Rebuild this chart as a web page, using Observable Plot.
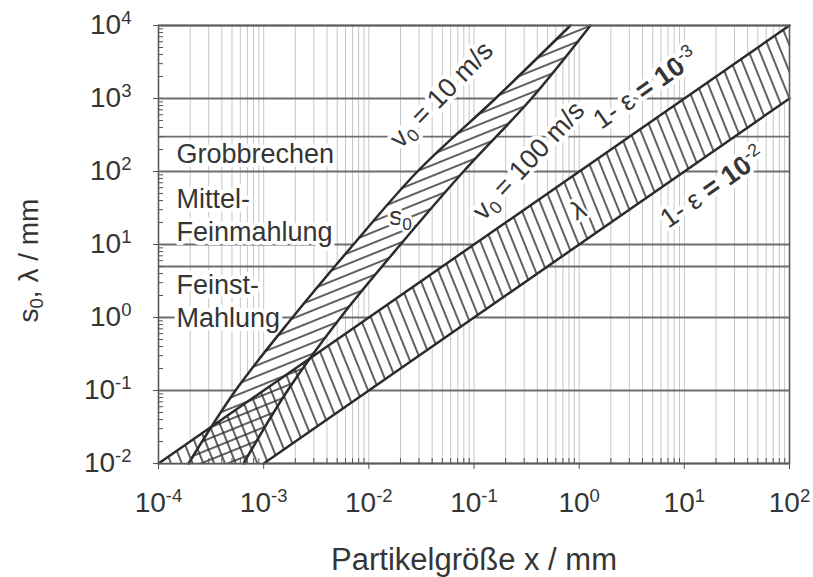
<!DOCTYPE html>
<html>
<head>
<meta charset="utf-8">
<script src="https://cdn.jsdelivr.net/npm/d3@7"></script>
<script src="https://cdn.jsdelivr.net/npm/@observablehq/plot@0.6"></script>
<style>
  html, body { margin: 0; padding: 0; background: #fff; }
  svg { display: block; }
</style>
</head>
<body>
<div id="chart"></div>
<script>
// Axis ranges and tick values (log-log diagram)
const xDecades = [1e-4, 1e-3, 1e-2, 1e-1, 1e0, 1e1, 1e2];
const yDecades = [1e-2, 1e-1, 1e0, 1e1, 1e2, 1e3, 1e4];
const gridMultipliers = [1, 2, 3, 4, 5, 6, 7, 8, 9];

// Limits of the comminution classes (mm)
const classBounds = [5, 300];
const classText = ["Grobbrechen", "Mittel-", "Feinmahlung", "Feinst-", "Mahlung"];
const classY = [129, 32, 11, 2.13, 0.73];
const classX = 1.48e-4;

// Stopping distance s0 versus particle size, for two impact velocities
const s0Levels = [1e-2, 1e-1, 1e0, 1e1, 1e2, 1e3, 1e4];
const xV10  = [1.93e-4, 5.4e-4, 1.88e-3, 7.14e-3, 0.029, 0.16, 0.826];
const xV100 = [6.43e-4, 1.69e-3, 5.38e-3, 0.020, 0.0794, 0.352, 1.28];

// Mean free path λ between particles for two solids fractions 1-ε
const lambdaX    = [1e-4, 1e-3, 1e2];
const lambdaE3   = [1e-2, 1e-1, 1e4];   // 1-ε = 10^-3
const lambdaE2   = [1e-2, 1e-2, 1e3];   // 1-ε = 10^-2 (bounded below by the axis)

// Curve annotations
const curveText   = ["v_{0} = 10 m/s", "v_{0} = 100 m/s", "1- ε *= 10*^{-3}", "1- ε *= 10*^{-2}"];
const curveX      = [0.049, 0.33, 4.28, 18.5];
const curveY      = [1130, 141, 1371, 60.4];
const curveRotate = [-46, -47, -35, -35];

const bandText   = ["s_{0}", "λ"];
const bandX      = [0.02, 0.987];
const bandY      = [24, 29.2];
const bandRotate = [0, -25];

const xGrid = xDecades.slice(0, -1).flatMap(d => gridMultipliers.map(k => k * d));
const xMinorTicks = xDecades.slice(0, -1).flatMap(d => gridMultipliers.slice(1).map(k => k * d));
const yMinorTicks = yDecades.slice(0, -1).flatMap(d => gridMultipliers.slice(1).map(k => k * d));

const s0Rows = s0Levels.map((y, i) => ({y, a: xV10[i], b: xV100[i]}));
const lambdaRows = lambdaX.map((x, i) => ({x, lo: lambdaE2[i], hi: lambdaE3[i]}));
const classRows = classText.map((text, i) => ({text, x: classX, y: classY[i]}));
const curveRows = curveText.map((text, i) => ({text, x: curveX[i], y: curveY[i], r: curveRotate[i]}));
const bandRows = bandText.map((text, i) => ({text, x: bandX[i], y: bandY[i], r: bandRotate[i]}));

const ink = "#2b2b2b";
const textInk = "#353535";
const expFormat = d => `10^{${Math.round(Math.log10(d))}}`;

const chart = Plot.plot({
  width: 813,
  height: 577,
  marginLeft: 158,
  marginRight: 24,
  marginTop: 25,
  marginBottom: 114,
  style: {fontFamily: "'Liberation Sans', Arial, sans-serif", fontSize: "28px", color: textInk, background: "#fff"},
  x: {type: "log", domain: [1e-4, 1e2]},
  y: {type: "log", domain: [1e-2, 1e4]},
  marks: [
    // grid
    Plot.ruleX(xGrid, {stroke: "#c6c6c6", strokeWidth: 1}),
    Plot.ruleY(yDecades.concat(classBounds), {stroke: "#6e6e6e", strokeWidth: 1.8}),
    // class names and curve names on white halos
    Plot.text(classRows, {x: "x", y: "y", text: "text", textAnchor: "start", lineAnchor: "bottom",
      fontSize: 27, fill: textInk, stroke: "white", strokeWidth: 8, strokeLinejoin: "round", paintOrder: "stroke"}),
    Plot.text(curveRows, {x: "x", y: "y", text: "text", rotate: "r", fontSize: 27, textAnchor: "middle", lineAnchor: "middle",
      fill: textInk, stroke: "white", strokeWidth: 8, strokeLinejoin: "round", paintOrder: "stroke"}),
    // band backgrounds
    Plot.areaY(lambdaRows, {x: "x", y1: "lo", y2: "hi", fill: "white"}),
    Plot.areaX(s0Rows, {y: "y", x1: "a", x2: "b", fill: "white", curve: "catmull-rom"}),
    // band hatching
    Plot.areaY(lambdaRows, {x: "x", y1: "lo", y2: "hi", fill: "url(#hatch-lambda)"}),
    Plot.areaX(s0Rows, {y: "y", x1: "a", x2: "b", fill: "url(#hatch-s0)", curve: "catmull-rom"}),
    Plot.text(bandRows, {x: "x", y: "y", text: "text", rotate: "r", textAnchor: "middle", lineAnchor: "middle",
      fontSize: 26, fill: textInk, stroke: "white", strokeWidth: 6, strokeLinejoin: "round", paintOrder: "stroke"}),
    // band boundaries
    Plot.line(s0Rows, {x: "a", y: "y", stroke: ink, strokeWidth: 2.5, curve: "catmull-rom"}),
    Plot.line(s0Rows, {x: "b", y: "y", stroke: ink, strokeWidth: 2.5, curve: "catmull-rom"}),
    Plot.line(lambdaRows, {x: "x", y: "hi", stroke: ink, strokeWidth: 2.5}),
    Plot.line(lambdaRows.slice(1), {x: "x", y: "lo", stroke: ink, strokeWidth: 2.5}),
    // minor ticks inside the frame
    Plot.ruleX(xMinorTicks, {insetTop: 433, stroke: "#555", strokeWidth: 1}),
    Plot.ruleY(yMinorTicks, {insetRight: 626, stroke: "#555", strokeWidth: 1}),
    Plot.frame({stroke: "#5a5a5a", strokeWidth: 1.6}),
    // axes
    Plot.axisX({ticks: xDecades, tickSize: 6, tickPadding: 23, tickFormat: expFormat, stroke: "#555", fill: textInk, label: null}),
    Plot.axisY({ticks: yDecades, tickSize: 5, tickPadding: 22, tickFormat: expFormat, stroke: "#555", fill: textInk, label: null}),
    Plot.text(["Partikelgröße x / mm"], {text: d => d, frameAnchor: "bottom", dy: 106, lineAnchor: "bottom", fontSize: 31, fill: textInk}),
    Plot.text(["s_{0}, λ / mm"], {text: d => d, frameAnchor: "left", rotate: -90, dx: -121, dy: 16, lineAnchor: "bottom", textAnchor: "middle", fontSize: 28, fill: textInk})
  ]
});

document.getElementById("chart").appendChild(chart);

// hatch patterns: both rotated by the same angle, one horizontal and one vertical stroke
const defs = d3.select(chart).insert("defs", ":first-child");
function hatch(id, vertical) {
  const p = defs.append("pattern")
    .attr("id", id)
    .attr("patternUnits", "userSpaceOnUse")
    .attr("width", 10)
    .attr("height", 10)
    .attr("patternTransform", "rotate(-22)");
  const l = p.append("line").attr("stroke", ink).attr("stroke-width", 1.5);
  if (vertical) l.attr("x1", 5).attr("y1", -1).attr("x2", 5).attr("y2", 11);
  else l.attr("x1", -1).attr("y1", 5).attr("x2", 11).attr("y2", 5);
}
hatch("hatch-s0", false);
hatch("hatch-lambda", true);

// superscripts ^{..}, subscripts _{..} and bold *..* inside text labels
const NS = "http://www.w3.org/2000/svg";
chart.querySelectorAll("text").forEach(el => {
  const raw = el.textContent;
  if (!/\^\{|_\{|\*/.test(raw) || el.children.length) return;
  const size = parseFloat(getComputedStyle(el).fontSize);
  const parts = raw.split(/(\^\{[^}]*\}|_\{[^}]*\}|\*[^*]*\*)/).filter(s => s);
  el.textContent = "";
  let shift = 0;
  for (const p of parts) {
    const t = document.createElementNS(NS, "tspan");
    let content = p, next = 0;
    if (p.startsWith("^{")) {
      content = p.slice(2, -1); next = -size * 0.36;
      t.setAttribute("font-size", (size * 0.66).toFixed(1));
    } else if (p.startsWith("_{")) {
      content = p.slice(2, -1); next = size * 0.2;
      t.setAttribute("font-size", (size * 0.66).toFixed(1));
    } else if (p.startsWith("*")) {
      content = p.slice(1, -1);
      t.setAttribute("font-weight", "bold");
    }
    const delta = next - shift;
    if (delta !== 0) t.setAttribute("dy", delta.toFixed(1));
    shift = next;
    t.textContent = content;
    el.appendChild(t);
  }
});
</script>
</body>
</html>
